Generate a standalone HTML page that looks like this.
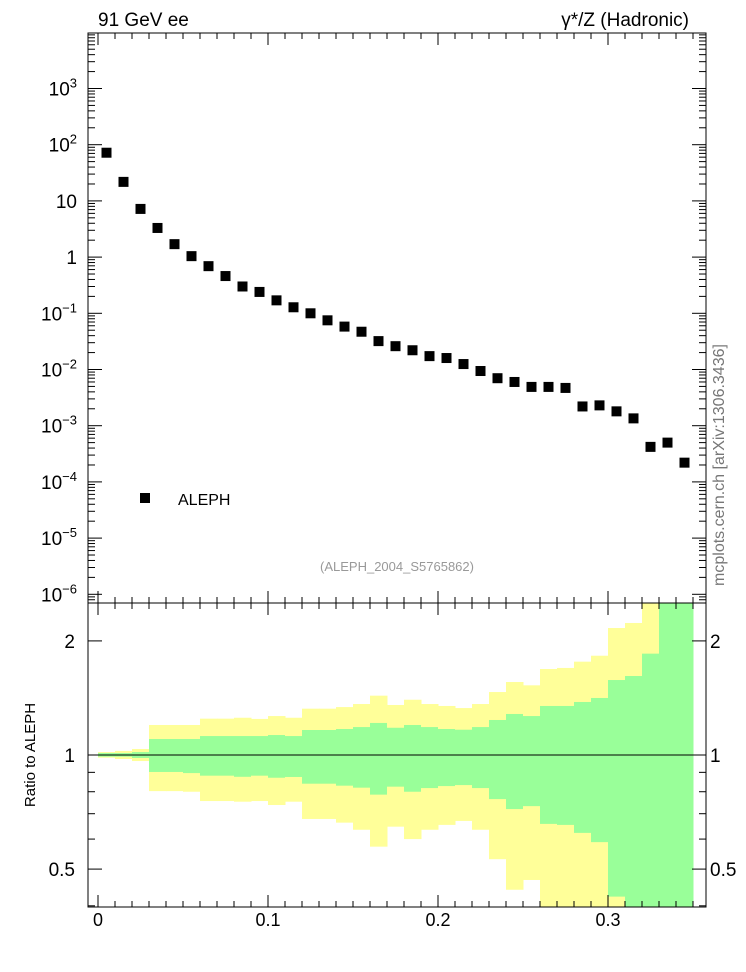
<!DOCTYPE html>
<html><head><meta charset="utf-8"><style>
html,body{margin:0;padding:0;background:#fff;}
svg{display:block;font-family:"Liberation Sans",sans-serif;}
</style></head><body>
<svg id="c" width="746" height="972" xmlns="http://www.w3.org/2000/svg"></svg>
<script>
const binEdges=[0,0.01,0.02,0.03,0.04,0.05,0.06,0.07,0.08,0.09,0.10,0.11,0.12,0.13,0.14,0.15,0.16,0.17,0.18,0.19,0.20,0.21,0.22,0.23,0.24,0.25,0.26,0.27,0.28,0.29,0.30,0.31,0.32,0.33,0.34,0.35];
const alephValues=[72,21.8,7.2,3.3,1.7,1.04,0.69,0.46,0.30,0.24,0.17,0.128,0.10,0.075,0.058,0.047,0.032,0.026,0.022,0.0173,0.016,0.0125,0.0094,0.007,0.006,0.0049,0.0049,0.0047,0.0022,0.0023,0.0018,0.00135,0.00042,0.00050,0.00022];
const totalUp=[1.018,1.025,1.037,1.20,1.20,1.20,1.247,1.247,1.254,1.245,1.267,1.254,1.325,1.325,1.338,1.363,1.434,1.355,1.399,1.363,1.347,1.33,1.363,1.466,1.558,1.527,1.686,1.697,1.763,1.828,2.163,2.23,3,3,3];
const totalDn=[0.984,0.976,0.964,0.803,0.803,0.80,0.756,0.756,0.753,0.756,0.738,0.753,0.678,0.678,0.663,0.635,0.573,0.647,0.600,0.635,0.654,0.670,0.635,0.531,0.441,0.468,0.3,0.3,0.3,0.3,0.3,0.3,0.3,0.3,0.3];
const statUp=[1.012,1.012,1.018,1.102,1.102,1.102,1.122,1.122,1.122,1.122,1.129,1.122,1.164,1.164,1.171,1.185,1.215,1.18,1.20,1.185,1.171,1.166,1.185,1.237,1.283,1.267,1.347,1.347,1.380,1.414,1.577,1.616,1.851,3,3];
const statDn=[0.99,0.99,0.982,0.902,0.902,0.896,0.882,0.882,0.876,0.882,0.871,0.875,0.840,0.840,0.830,0.820,0.786,0.825,0.80,0.818,0.828,0.833,0.818,0.765,0.720,0.733,0.658,0.654,0.623,0.589,0.423,0.3,0.3,0.3,0.3];
const xTicks=[0,0.1,0.2,0.3];
const xTickLabels=["0","0.1","0.2","0.3"];
const yDecades=[-6,-5,-4,-3,-2,-1,0,1,2,3];
const ratioTicks=[0.5,1,2];
const ratioTickLabels=["0.5","1","2"];

const NS="http://www.w3.org/2000/svg";
const svg=document.getElementById('c');
function mk(tag,attrs,parent){const e=document.createElementNS(NS,tag);for(const k in attrs)e.setAttribute(k,attrs[k]);(parent||svg).appendChild(e);return e;}
const L=88,R=706,T=33,M=603,B=907;
const X=v=>98+1700*v;
const Y=v=>88.5+(3-Math.log10(v))*56.2;
const YR=v=>{let y=755-Math.log10(v)*379;return Math.max(M,Math.min(B,y));};

// ratio bands
const bands=mk('g',{});


for(let i=0;i<alephValues.length;i++){
  const x0=X(binEdges[i]),x1=X(binEdges[i+1]);
  const r1=mk('rect',{x:x0,y:YR(totalUp[i]),width:x1-x0+0.5,height:YR(totalDn[i])-YR(totalUp[i]),fill:'#ffff99'},bands);
  
  
  const r2=mk('rect',{x:x0,y:YR(statUp[i]),width:x1-x0+0.5,height:YR(statDn[i])-YR(statUp[i]),fill:'#99ff99'},bands);
  
  
}
const one=mk('line',{x1:X(0),x2:R,y1:YR(1),y2:YR(1),stroke:'#000','stroke-width':1});



// markers
const pts=mk('g',{});


for(let i=0;i<alephValues.length;i++){
  const cx=X((binEdges[i]+binEdges[i+1])/2),cy=Y(alephValues[i]);
  const r=mk('rect',{x:cx-5,y:cy-5,width:10,height:10,fill:'#000'},pts);
  
  
}

// frames
const f1=mk('rect',{x:L,y:T,width:R-L,height:M-T,fill:'none',stroke:'#000','stroke-width':1});


const f2=mk('rect',{x:L,y:M,width:R-L,height:B-M,fill:'none',stroke:'#000','stroke-width':1});



// x ticks
const ticks=mk('g',{stroke:'#000','stroke-width':1});


for(let k=0;k<=35;k++){
  const v=k/100,x=X(v),len=(k%10==0)?12:6;
  [[T,1],[M,-1],[M,1],[B,-1]].forEach(([y0,d])=>mk('line',{x1:x,x2:x,y1:y0,y2:y0+d*len},ticks));
}
// log y ticks main
for(let d=-7;d<=3;d++){
  for(let m=1;m<=9;m++){
    const v=m*Math.pow(10,d),y=Y(v);
    if(y<T||y>M)continue;
    const len=m==1?14:7;
    mk('line',{x1:L,x2:L+len,y1:y,y2:y},ticks);
    mk('line',{x1:R,x2:R-len,y1:y,y2:y},ticks);
  }
}
// ratio y ticks
[0.4,0.5,0.6,0.7,0.8,0.9,1,2].forEach(v=>{
  const y=YR(v),len=(v==0.5||v==1||v==2)?14:7;
  mk('line',{x1:L,x2:L+len,y1:y,y2:y},ticks);
  mk('line',{x1:R,x2:R-len,y1:y,y2:y},ticks);
});
[1.1,1.2,1.3,1.4,1.5,1.6,1.7,1.8,1.9].forEach(()=>{});

// labels
function txt(s,attrs,name){const t=mk('text',attrs);t.textContent=s;return t;}
xTicks.forEach((v,i)=>txt(xTickLabels[i],{x:X(v),y:926,'font-size':18,'text-anchor':'middle'},'x-tick-label'));
yDecades.forEach(d=>{
  const y=Y(Math.pow(10,d));
  let t;
  if(d==0) t=txt('1',{x:77,y:y+7,'font-size':19,'text-anchor':'end'},'y-tick-label');
  else if(d==1) t=txt('10',{x:77,y:y+7,'font-size':19,'text-anchor':'end'},'y-tick-label');
  else{
    t=mk('text',{x:77,y:y+7,'font-size':19,'text-anchor':'end'});
    
    
    const a=document.createElementNS(NS,'tspan');a.textContent='10';t.appendChild(a);
    const b=document.createElementNS(NS,'tspan');b.setAttribute('dy','-8');b.setAttribute('font-size','13');b.textContent=String(d).replace('-','\u2212');t.appendChild(b);
  }
});
ratioTicks.forEach((v,i)=>{
  txt(ratioTickLabels[i],{x:75,y:YR(v)+7,'font-size':19,'text-anchor':'end'},'ratio-tick-label-left');
  txt(ratioTickLabels[i],{x:710,y:YR(v)+7,'font-size':19,'text-anchor':'start'},'ratio-tick-label-right');
});
txt('91 GeV ee',{x:98,y:26,'font-size':19},'plot-title-left');
txt('\u03b3*/Z (Hadronic)',{x:689,y:26,'font-size':19,'text-anchor':'end'},'plot-title-right');
txt('(ALEPH_2004_S5765862)',{x:397,y:571,'font-size':13,fill:'#999','text-anchor':'middle'},'analysis-id');
txt('Ratio to ALEPH',{x:0,y:0,'font-size':15,'text-anchor':'middle',transform:'translate(35,755) rotate(-90)'},'ratio-y-axis-title');
txt('mcplots.cern.ch [arXiv:1306.3436]',{x:0,y:0,'font-size':16,fill:'#777','text-anchor':'middle',transform:'translate(724,465) rotate(-90)'},'watermark');
const lg=mk('rect',{x:140,y:493,width:10,height:10,fill:'#000'});


txt('ALEPH',{x:178,y:505,'font-size':16},'legend-label');
</script>
</body></html>
